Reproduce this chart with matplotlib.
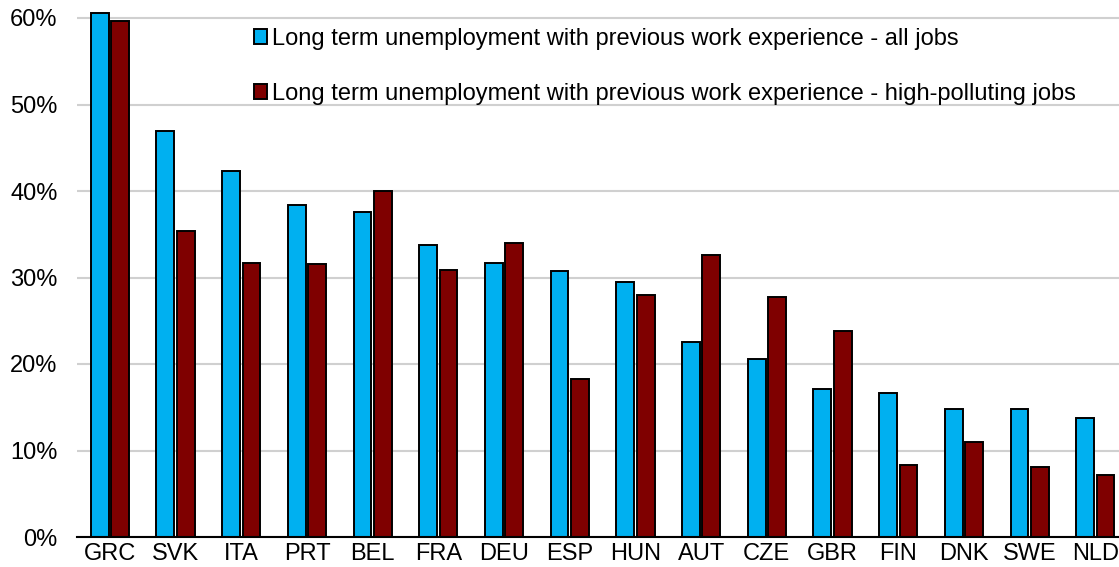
import matplotlib.pyplot as plt
import matplotlib.patches as mpatches
import numpy as np

plt.rcParams['font.family'] = ['Liberation Sans', 'DejaVu Sans']

countries = ['GRC', 'SVK', 'ITA', 'PRT', 'BEL', 'FRA', 'DEU', 'ESP',
             'HUN', 'AUT', 'CZE', 'GBR', 'FIN', 'DNK', 'SWE', 'NLD']
all_jobs = [60.6, 46.9, 42.3, 38.4, 37.6, 33.8, 31.7, 30.7,
            29.5, 22.6, 20.6, 17.1, 16.6, 14.8, 14.8, 13.7]
polluting_jobs = [59.6, 35.4, 31.7, 31.6, 40.0, 30.9, 34.0, 18.3,
                  28.0, 32.6, 27.7, 23.8, 8.3, 11.0, 8.1, 7.2]
labels = ['Long term unemployment with previous work experience - all jobs',
          'Long term unemployment with previous work experience - high-polluting jobs']

blue = '#00B0F0'
red = '#7F0000'

fig = plt.figure(figsize=(11.19, 5.67), dpi=100)
# 0% sits at y=537 px, 10% steps are ~86.5 px
px10 = 86.5
ymax = 62
ax = fig.add_axes([77 / 1119, 30 / 567, 1 - 77 / 1119, ymax / 10 * px10 / 567])

x = np.arange(len(countries))
w = 0.27
ax.bar(x - w / 2 - 0.02, all_jobs, w, color=blue, edgecolor='black', linewidth=1.4, zorder=3)
ax.bar(x + w / 2 + 0.02, polluting_jobs, w, color=red, edgecolor='black', linewidth=1.4, zorder=3)

ax.set_xlim(-0.5, 15.36)
ax.set_ylim(0, ymax)
ax.set_yticks(np.arange(0, 61, 10))
ax.set_yticklabels([f'{v}%' for v in range(0, 61, 10)], fontsize=17)
ax.set_xticks(x)
ax.set_xticklabels(countries, fontsize=17)
ax.tick_params(length=0)
ax.tick_params(axis='y', pad=14)
ax.tick_params(axis='x', pad=4.5)
ax.yaxis.grid(True, color='#D0D0D0', linewidth=1.5, zorder=0)
ax.set_axisbelow(True)
for s in ['top', 'right', 'left']:
    ax.spines[s].set_visible(False)
ax.spines['bottom'].set_linewidth(1.5)
ax.spines['bottom'].set_zorder(4)

handles = [mpatches.Patch(facecolor=blue, edgecolor='black', linewidth=1.4),
           mpatches.Patch(facecolor=red, edgecolor='black', linewidth=1.4)]
fig.legend(handles, labels, loc='upper left', bbox_to_anchor=(242 / 1119, 1 - 16 / 567),
           frameon=False, fontsize=17, handlelength=0.55, handleheight=0.55,
           handletextpad=0.2, labelspacing=1.4, borderpad=0)

fig.savefig('out.png', dpi=100)
